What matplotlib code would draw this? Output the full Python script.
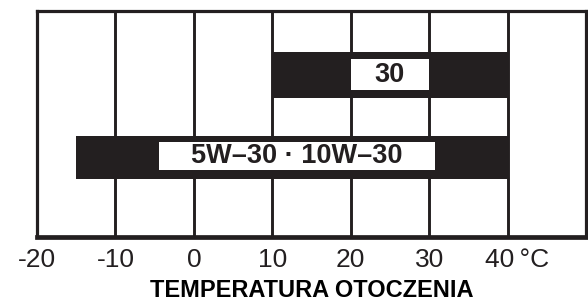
import matplotlib
matplotlib.use("Agg")
import matplotlib.pyplot as plt
from matplotlib.patches import Rectangle
import matplotlib.transforms as mtransforms

plt.rcParams['font.family'] = ['Liberation Sans', 'DejaVu Sans']

# ---- data ----
grades = ["30", "5W\u201330 \u00b7 10W\u201330"]
temp_min = [10, -15]
temp_max = [40, 40]
tick_values = [-20, -10, 0, 10, 20, 30, 40]
tick_labels = ["-20", "-10", "0", "10", "20", "30", "40\u2009\u00b0C"]
xlabel = "TEMPERATURA OTOCZENIA"

# ---- layout / style ----
INK = "#231f20"
bar_y = [0.717, 0.352]
bar_h = [0.204, 0.190]
label_box_x = [(20, 30), (-4.5, 30.8)]
label_box_y = [(0.650, 0.788), (0.296, 0.420)]

fig = plt.figure(figsize=(5.88, 3.02), dpi=100)
ax = fig.add_axes([37/588, 65/302, 549/588, 226/302])
ax.set_xlim(-20, 50)
ax.set_ylim(0, 1)

# grid lines
for v in tick_values[1:]:
    ax.axvline(v, color=INK, lw=2.1, zorder=1)

# bars
widths = [b - a for a, b in zip(temp_min, temp_max)]
ax.barh(bar_y, widths, left=temp_min, height=bar_h, color=INK, zorder=2)

# label boxes + labels
for g, (x0, x1), (y0, y1) in zip(grades, label_box_x, label_box_y):
    ax.add_patch(Rectangle((x0, y0), x1 - x0, y1 - y0, facecolor="white",
                           edgecolor="none", zorder=3))
    ax.text((x0 + x1) / 2, (y0 + y1) / 2, g, ha="center", va="center",
            fontsize=19.5, fontweight="bold", color=INK, zorder=4)

for side in ["top", "left", "right"]:
    ax.spines[side].set_linewidth(2.3)
    ax.spines[side].set_color(INK)
ax.spines["bottom"].set_linewidth(3.4)
ax.spines["bottom"].set_color(INK)

ax.set_yticks([])
ax.set_xticks(tick_values)
ax.set_xticklabels(tick_labels, fontsize=19, color=INK)
ax.tick_params(axis="x", length=0, pad=8)
# shift the last label (with unit) to the right
last = ax.get_xticklabels()[-1]
last.set_transform(last.get_transform() + mtransforms.ScaledTranslation(9/100, 0, fig.dpi_scale_trans))

ax.set_xlabel(xlabel, fontsize=17, fontweight="bold", color="black", labelpad=5)

fig.savefig("out.png", dpi=100)
